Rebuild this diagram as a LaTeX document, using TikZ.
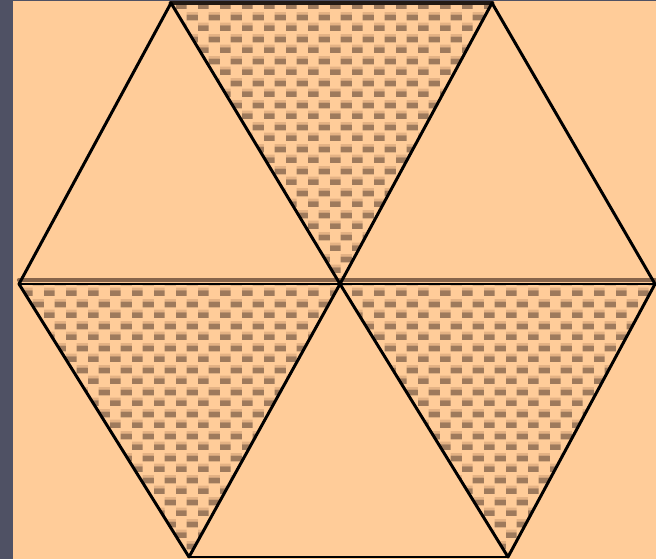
\documentclass[tikz,border=0pt]{standalone}
\usepackage{tikz}
\usetikzlibrary{patterns}
\usepackage{tkz-euclide}

\definecolor{peach}{RGB}{255,204,153}
\definecolor{stripblue}{RGB}{79,81,100}
\definecolor{hatchdark}{RGB}{158,122,92}
\definecolor{hatchlight}{RGB}{228,178,132}
\definecolor{edgebrown}{RGB}{135,100,74}

\pgfdeclarepatterninherentlycolored{dashcheck}
{\pgfpointorigin}{\pgfqpoint{12.52pt}{12.52pt}}{\pgfqpoint{12.52pt}{12.52pt}}
{
  \pgfsetfillcolor{hatchlight}
  \pgfpathrectangle{\pgfqpoint{0pt}{3.4pt}}{\pgfqpoint{6.26pt}{1.6pt}}
  \pgfpathrectangle{\pgfqpoint{6.26pt}{9.66pt}}{\pgfqpoint{6.26pt}{1.6pt}}
  \pgfusepath{fill}
  \pgfsetfillcolor{hatchdark}
  \pgfpathrectangle{\pgfqpoint{0pt}{0pt}}{\pgfqpoint{6.26pt}{3.4pt}}
  \pgfpathrectangle{\pgfqpoint{6.26pt}{6.26pt}}{\pgfqpoint{6.26pt}{3.4pt}}
  \pgfusepath{fill}
}

\begin{document}
\begin{tikzpicture}[x=0.2mm, y=0.2mm]
                \useasboundingbox (0,0) rectangle (656,559);
                \fill[peach] (0,0) rectangle (656,559);
                \fill[stripblue] (0,0) rectangle (13,559);
                \fill[stripblue] (0,558) rectangle (656,559);
                \tkzDefPoints{171/556/A, 492/556/B, 19/275/L, 340/275/O, 655/275/R, 189/2/D, 508/2/E}
                \tkzDefPoints{19/279/L', 655/279/R'}
                \tkzFillPolygon[pattern=dashcheck](A,B,O)
                \tkzFillPolygon[pattern=dashcheck](L,O,D)
                \tkzFillPolygon[pattern=dashcheck](O,R,E)
                \tkzDrawSegment[edgebrown, line width=2.4pt](L',R')
                \tkzDrawSegment[black!75!edgebrown, line width=2.8pt](A,B)
                \tkzDrawSegments[black, line width=1.7pt](L,R A,L A,O B,O B,R)
                \tkzDrawSegments[black, line width=1.7pt](L,D O,D O,E R,E D,E)
            \end{tikzpicture}
\end{document}
